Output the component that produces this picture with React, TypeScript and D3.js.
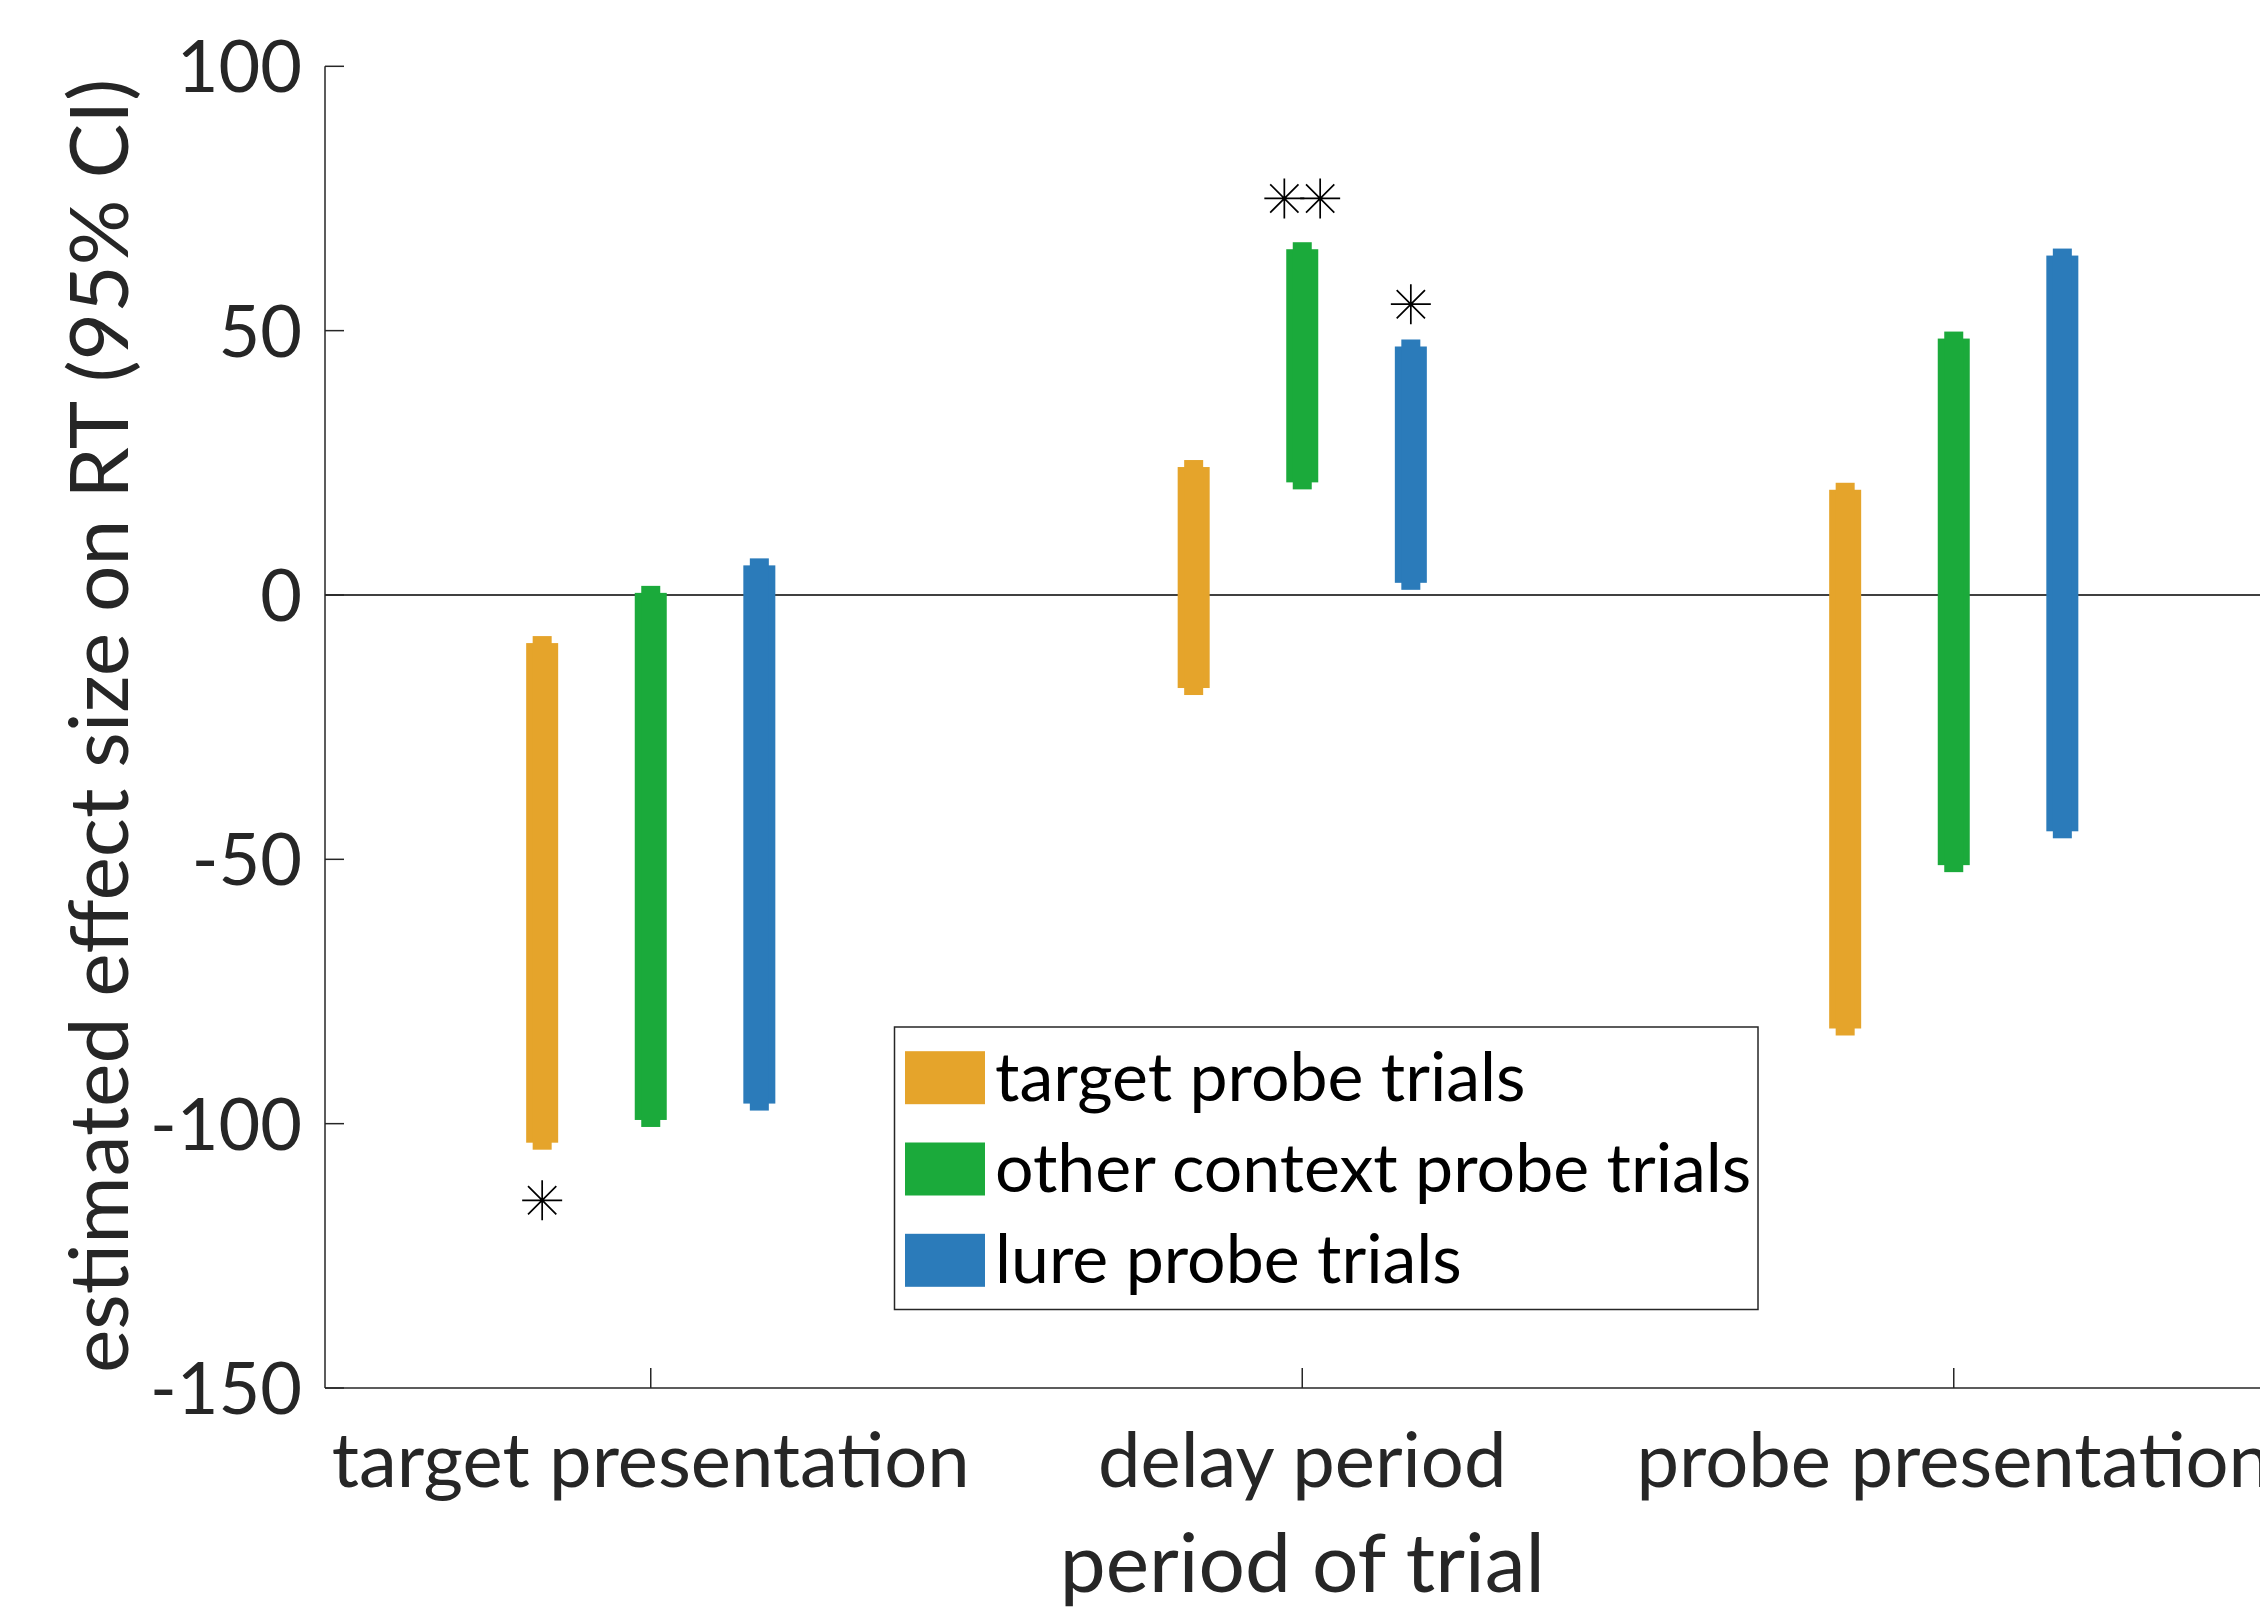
import React, { useEffect, useRef } from 'react';
import * as d3 from 'd3';

// periods on the x axis and the three trial types
const periods = ['target presentation', 'delay period', 'probe presentation'];
const seriesNames = ['target probe trials', 'other context probe trials', 'lure probe trials'];
const seriesColors = ['#E5A42B', '#1BAA3B', '#2B7BBA'];

// 95% CI ends, one value per period
const targetLow = [-103.6, -17.6, -82.0];
const targetHigh = [-9.1, 24.2, 19.9];
const otherLow = [-99.3, 21.3, -51.1];
const otherHigh = [0.4, 65.4, 48.5];
const lureLow = [-96.2, 2.3, -44.7];
const lureHigh = [5.6, 47.0, 64.2];

const yTicks = [-150, -100, -50, 0, 50, 100];

// significance stars: period, series, height, how many
const starPeriod = [0, 1, 1];
const starSeries = [0, 1, 2];
const starValue = [-114.5, 75.0, 55.0];
const starCount = [1, 2, 1];

const FONT = "Lato, 'Open Sans', sans-serif";
const AXIS = '#262626';

const App = () => {
  const chartRef = useRef<SVGSVGElement | null>(null);

  useEffect(() => {
    const W = 2260;
    const H = 1617;
    const svg = d3.select(chartRef.current);
    svg.selectAll('*').remove();
    svg.attr('width', W).attr('height', H);

    svg.append('rect').attr('width', W).attr('height', H).attr('fill', '#fff');

    const x = d3.scaleLinear().domain([0.5, 3.5]).range([325, 2279.5]);
    const y = d3.scaleLinear().domain([-150, 100]).range([1388, 66.3]);

    const lows = [targetLow, otherLow, lureLow];
    const highs = [targetHigh, otherHigh, lureHigh];
    const offset = 1 / 6;
    const xPos = (p: number, s: number) => x(p + 1 + (s - 1) * offset);

    // zero line
    svg.append('line')
      .attr('x1', x(0.5)).attr('x2', W)
      .attr('y1', y(0)).attr('y2', y(0))
      .attr('stroke', '#000').attr('stroke-width', 1.6);

    // axes
    svg.append('line')
      .attr('x1', x(0.5)).attr('x2', x(0.5))
      .attr('y1', y(100)).attr('y2', y(-150))
      .attr('stroke', AXIS).attr('stroke-width', 1.5);
    svg.append('line')
      .attr('x1', x(0.5)).attr('x2', W)
      .attr('y1', y(-150)).attr('y2', y(-150))
      .attr('stroke', AXIS).attr('stroke-width', 1.5);

    const yg = svg.append('g');
    yTicks.forEach(t => {
      yg.append('line')
        .attr('x1', x(0.5)).attr('x2', x(0.5) + 19)
        .attr('y1', y(t)).attr('y2', y(t))
        .attr('stroke', AXIS).attr('stroke-width', 1.5);
      yg.append('text')
        .attr('x', 302).attr('y', y(t))
        .attr('dy', '0.36em')
        .attr('text-anchor', 'end')
        .attr('font-family', FONT).attr('font-size', 72)
        .attr('fill', AXIS)
        .text(t);
    });

    const xg = svg.append('g');
    periods.forEach((p, i) => {
      xg.append('line')
        .attr('x1', x(i + 1)).attr('x2', x(i + 1))
        .attr('y1', y(-150)).attr('y2', y(-150) - 20)
        .attr('stroke', AXIS).attr('stroke-width', 1.5);
      xg.append('text')
        .attr('x', x(i + 1)).attr('y', 1487)
        .attr('text-anchor', 'middle')
        .attr('font-family', FONT).attr('font-size', 76)
        .attr('fill', AXIS)
        .text(p);
    });

    svg.append('text')
      .attr('x', x(2)).attr('y', 1592)
      .attr('text-anchor', 'middle')
      .attr('font-family', FONT).attr('font-size', 82)
      .attr('fill', AXIS)
      .text('period of trial');

    svg.append('text')
      .attr('transform', `translate(128,${726}) rotate(-90)`)
      .attr('text-anchor', 'middle')
      .attr('font-family', FONT).attr('font-size', 82)
      .attr('fill', AXIS)
      .text('estimated effect size on RT (95% CI)');

    // CI bars
    const bars = svg.append('g');
    seriesNames.forEach((name, s) => {
      periods.forEach((p, i) => {
        const cx = xPos(i, s);
        const top = y(highs[s][i]);
        const bot = y(lows[s][i]);
        bars.append('rect')
          .attr('x', cx - 16).attr('width', 32)
          .attr('y', top).attr('height', bot - top)
          .attr('fill', seriesColors[s]);
        bars.append('rect')
          .attr('x', cx - 9.5).attr('width', 19)
          .attr('y', top - 7).attr('height', bot - top + 14)
          .attr('fill', seriesColors[s]);
      });
    });

    // stars
    const starPath = (r: number) => {
      const d = d3.path();
      [0, 45, 90, 135].forEach(a => {
        const rad = (a * Math.PI) / 180;
        d.moveTo(-r * Math.cos(rad), -r * Math.sin(rad));
        d.lineTo(r * Math.cos(rad), r * Math.sin(rad));
      });
      return d.toString();
    };
    const stars = svg.append('g');
    starValue.forEach((v, k) => {
      const n = starCount[k];
      for (let j = 0; j < n; j++) {
        const dx = (j - (n - 1) / 2) * 0.055;
        const cx = x(starPeriod[k] + 1 + (starSeries[k] - 1) * offset + dx);
        stars.append('path')
          .attr('transform', `translate(${cx},${y(v)})`)
          .attr('d', starPath(20))
          .attr('stroke', '#000').attr('stroke-width', 1.7)
          .attr('fill', 'none');
      }
    });

    // legend
    const lg = svg.append('g');
    lg.append('rect')
      .attr('x', 894.5).attr('y', 1027)
      .attr('width', 863.5).attr('height', 282.5)
      .attr('fill', '#fff')
      .attr('stroke', AXIS).attr('stroke-width', 1.5);
    seriesNames.forEach((name, s) => {
      const cy = 1077.7 + s * 91.3;
      lg.append('rect')
        .attr('x', 905).attr('y', cy - 26.5)
        .attr('width', 80).attr('height', 53)
        .attr('fill', seriesColors[s]);
      lg.append('text')
        .attr('x', 995).attr('y', cy + 23)
        .attr('font-family', FONT).attr('font-size', 68)
        .attr('fill', '#000')
        .text(name);
    });
  }, []);

  return (
    <svg ref={chartRef} style={{ position: 'absolute', left: 0, top: 0 }}></svg>
  );
};

export default App;
